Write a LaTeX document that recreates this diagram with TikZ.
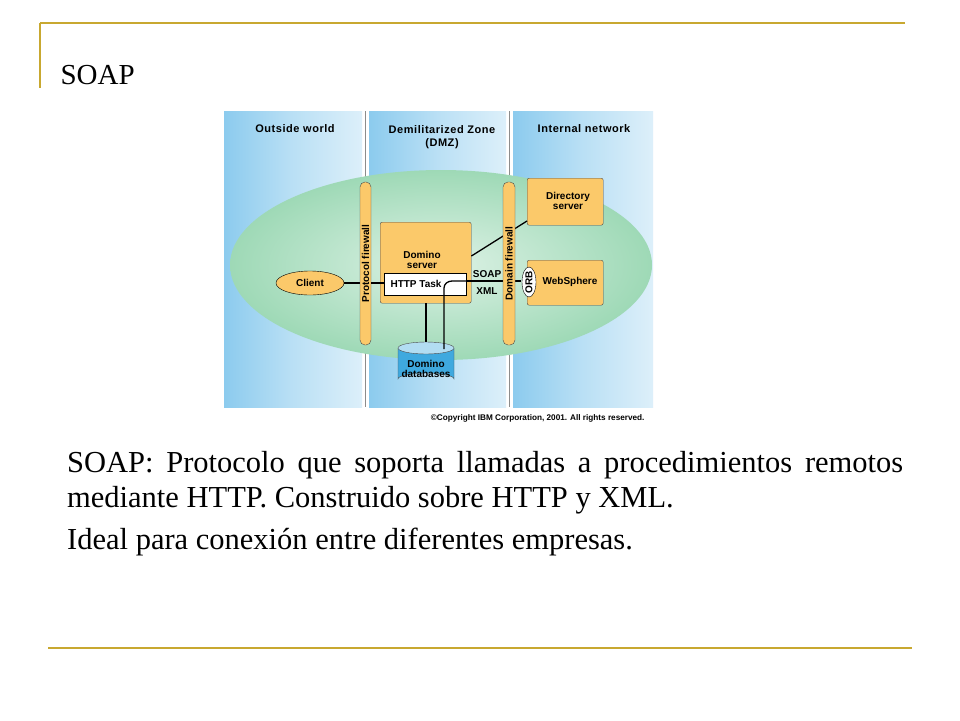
\documentclass[tikz,border=0pt]{standalone}
\usepackage{fontspec}
\setmainfont{Liberation Serif}
\setsansfont{Liberation Sans}
\usetikzlibrary{shapes.geometric}
\definecolor{gold}{HTML}{C8A830}
\definecolor{orng}{HTML}{FBC96A}
\definecolor{pblue}{HTML}{8CCBEE}
\definecolor{egreen}{HTML}{9ED9B6}
\definecolor{dblue}{HTML}{3FA9DF}
\tikzset{
 box/.style={draw=black!70,fill=orng,rounded corners=2pt,line width=0.4pt},
 lab/.style={font=\sffamily\bfseries\fontsize{10}{10}\selectfont,align=center},
 hdr/.style={font=\sffamily\bfseries\fontsize{11}{13}\selectfont\addfontfeature{LetterSpace=5},align=center},
 wire/.style={line width=1.3pt},
 panel/.style={left color=pblue,right color=pblue!30,middle color=pblue!60},
}
\begin{document}
\begin{tikzpicture}[x=1pt,y=-1pt]
\useasboundingbox (0,0) rectangle (960,720);
\fill[white] (0,0) rectangle (960,720);
% slide frame
\draw[gold,line width=1.5pt] (40,23) -- (905,23);
\draw[gold,line width=1.5pt] (40,23) -- (40,88);
\draw[gold,line width=1.5pt] (48,648) -- (912,648);
\node[anchor=west,font=\fontsize{29}{32}\selectfont] (title) at (57,75) {SOAP};
% panels
\shade[panel] (224,111) rectangle (362,407);
\shade[panel] (369,111) rectangle (506,407);
\shade[panel] (513,111) rectangle (653,407);
\draw[black!45,line width=0.6pt] (365,111) -- (365,407) (509,111) -- (509,407);
% ellipse
\shade[inner color=egreen!35,outer color=egreen] (441,265) ellipse [x radius=211,y radius=95];
% headers
\node[hdr] (h1) at (295,129) {Outside world};
\node[hdr,anchor=north] (h2) at (442,122) {Demilitarized Zone\\(DMZ)};
\node[hdr] (h3) at (584,129) {Internal network};
% nodes
\node[box,minimum width=91pt,minimum height=81pt,anchor=north west] (dom) at (380,222) {};
\node[lab,anchor=south] at (422,272) {Domino\\server};
\node[box,minimum width=76pt,minimum height=47pt,anchor=north west] (dir) at (527,178) {};
\node[lab] at (568,201) {Directory\\server};
\node[box,minimum width=76pt,minimum height=45pt,anchor=north west] (ws) at (527,260) {};
\node[lab] at (570,282) {WebSphere};
\node[ellipse,draw=black,fill=orng,minimum width=68pt,minimum height=24pt,inner sep=0pt,lab] (client) at (310,283) {Client};
% wires (under firewalls)
\draw[wire] (client.east) -- (384,283);
\draw[wire] (dom.east |- 0,256) -- (dir.west |- 0,221);
\draw[wire] (426,303) -- (426,345);
\draw[wire] (452,281) -- (521,281);
% firewalls
\node[box,rounded corners=5pt,minimum width=11pt,minimum height=163pt] (pf) at (365.5,263.5) {};
\node[lab,rotate=90] at (365.5,263.5) {Protocol firewall};
\node[box,rounded corners=5pt,minimum width=12pt,minimum height=163pt] (df) at (509,263.5) {};
\node[lab,rotate=90] at (509,263.5) {Domain firewall};
\draw[wire] (371,283) -- (384,283);
% http task
\node[draw=black,fill=white,minimum width=82pt,minimum height=22pt,anchor=north west,inner sep=0pt] (http) at (384,273) {};
\node[lab,anchor=west] (httpt) at (387,284) {HTTP Task};
% database cylinder
\fill[dblue] (398,348) -- (398,379) arc[start angle=180,end angle=360,x radius=28,y radius=6] -- (454,348) -- cycle;
\draw[black!70] (398,348) -- (398,379) arc[start angle=180,end angle=360,x radius=28,y radius=6] -- (454,348);
\draw[black!70,fill=dblue!40] (426,348) ellipse [x radius=28,y radius=6];
\node[lab] (dbl) at (426,369) {Domino\\databases};
\draw[wire] (444,349) -- (444,288) to[out=90,in=180] (452,281) -- (466,281);
\node[lab] (soap) at (487,274) {SOAP};
\node[lab] (xml) at (487,291) {XML};
\node[ellipse,draw=black,fill=white,minimum width=14pt,minimum height=30pt,inner sep=0pt] (orb) at (529,282) {};
\node[lab,rotate=90] at (529,282) {ORB};
% copyright
\node[anchor=east,font=\sffamily\bfseries\fontsize{8.2}{9}\selectfont] (copy) at (648,418) {©Copyright IBM Corporation, 2001. All rights reserved.};
% body text
\node[anchor=north west,text width=836pt,align=justify,inner sep=0pt,font=\fontsize{30.5}{35}\selectfont] (body) at (67,451)
{SOAP: Protocolo que soporta llamadas a procedimientos remotos\linebreak mediante HTTP. Construido sobre HTTP y XML.\\[7pt]Ideal para conexión entre diferentes empresas.};
\end{tikzpicture}
\end{document}
